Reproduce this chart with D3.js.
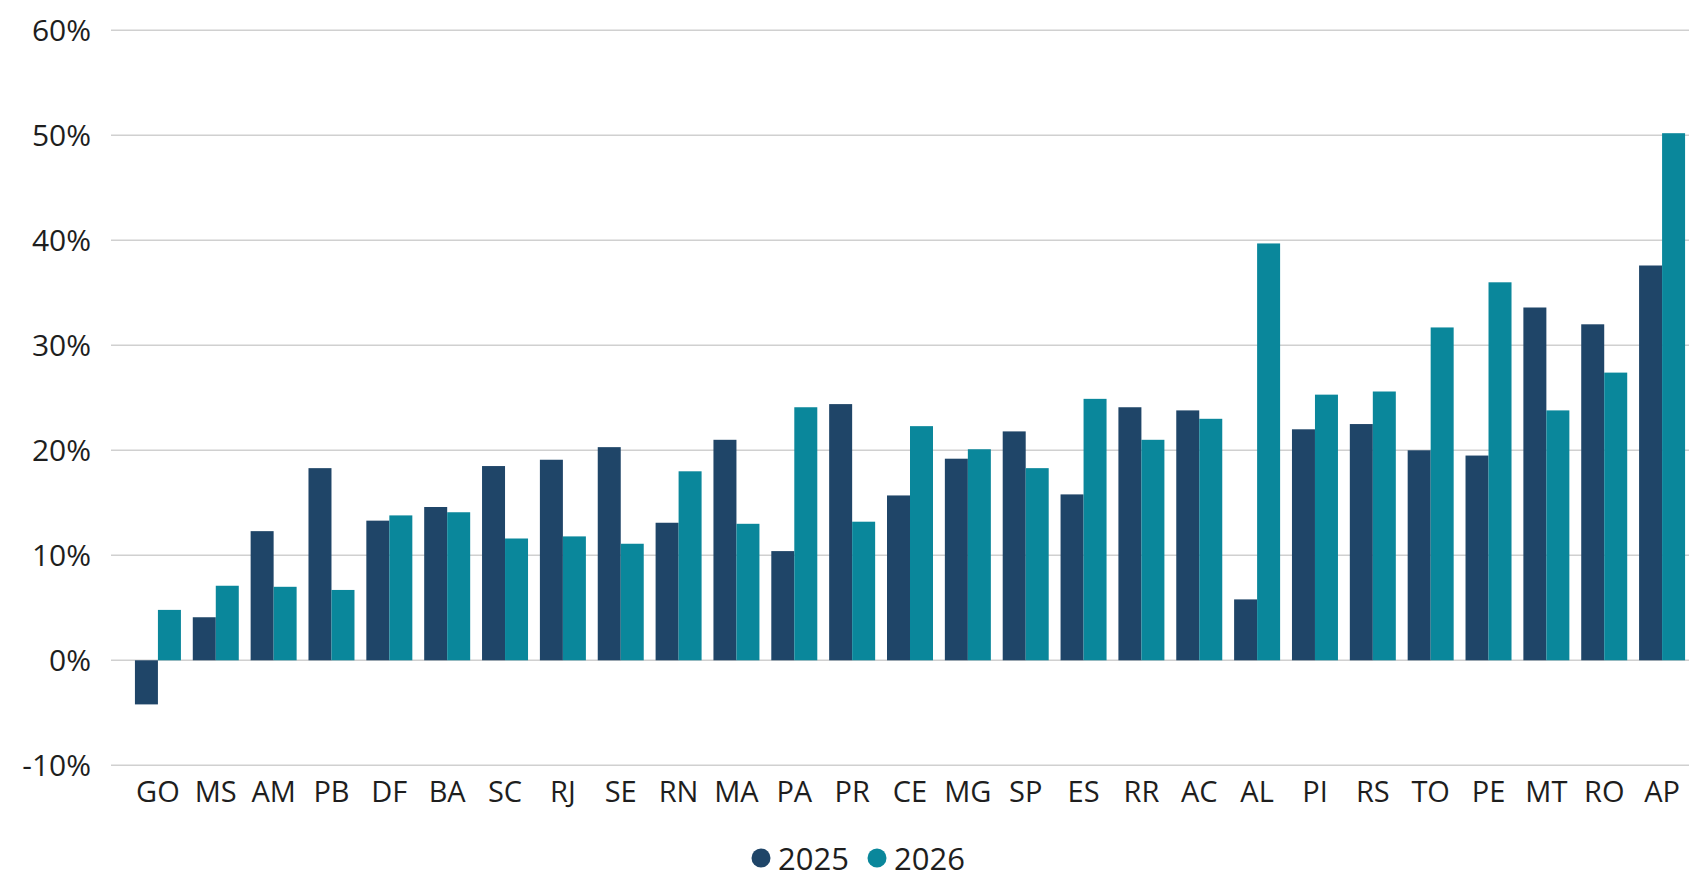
<!DOCTYPE html>
<html>
<head>
<meta charset="utf-8">
<script src="https://cdn.jsdelivr.net/npm/d3@7"></script>
<style>
  html, body { margin: 0; padding: 0; background: #fff; }
  svg { display: block; }
  text { font-family: "Open Sans", "Noto Sans", sans-serif; fill: #1e1e1e; }
</style>
</head>
<body>
<svg id="chart" width="1689" height="872"></svg>
<script>
const categories = ["GO","MS","AM","PB","DF","BA","SC","RJ","SE","RN","MA","PA","PR","CE","MG","SP","ES","RR","AC","AL","PI","RS","TO","PE","MT","RO","AP"];
const series2025 = [-4.2, 4.1, 12.3, 18.3, 13.3, 14.6, 18.5, 19.1, 20.3, 13.1, 21.0, 10.4, 24.4, 15.7, 19.2, 21.8, 15.8, 24.1, 23.8, 5.8, 22.0, 22.5, 20.0, 19.5, 33.6, 32.0, 37.6];
const series2026 = [4.8, 7.1, 7.0, 6.7, 13.8, 14.1, 11.6, 11.8, 11.1, 18.0, 13.0, 24.1, 13.2, 22.3, 20.1, 18.3, 24.9, 21.0, 23.0, 39.7, 25.3, 25.6, 31.7, 36.0, 23.8, 27.4, 50.2];
const seriesNames = ["2025", "2026"];
const yTicks = [-10, 0, 10, 20, 30, 40, 50, 60];
const colors = ["#1F4568", "#0A879B"];

const svg = d3.select("#chart");

const y = d3.scaleLinear().domain([-10, 60]).range([765.3, 30.3]);
const x0 = d3.scaleBand().domain(categories).range([129, 1691]).paddingInner(0.205).paddingOuter(0.1025);
const x1 = d3.scaleBand().domain(seriesNames).range([0, x0.bandwidth()]);

// gridlines
svg.append("g").selectAll("line").data(yTicks).join("line")
  .attr("x1", 111).attr("x2", 1689)
  .attr("y1", d => y(d)).attr("y2", d => y(d))
  .attr("stroke", "#d0d0d0").attr("stroke-width", 1.6);

// y labels
svg.append("g").selectAll("text").data(yTicks).join("text")
  .attr("x", 91).attr("y", d => y(d)).attr("dy", "0.36em")
  .attr("text-anchor", "end").attr("font-size", 30)
  .text(d => d + "%");

// bars
const data = categories.map((c, i) => ({ cat: c, vals: [series2025[i], series2026[i]] }));
const groups = svg.append("g").selectAll("g").data(data).join("g")
  .attr("transform", d => `translate(${x0(d.cat)},0)`);
groups.selectAll("rect").data(d => d.vals.map((v, j) => ({ v, s: seriesNames[j], j })))
  .join("rect")
  .attr("x", d => x1(d.s))
  .attr("width", x1.bandwidth())
  .attr("y", d => y(Math.max(0, d.v)))
  .attr("height", d => Math.abs(y(d.v) - y(0)))
  .attr("fill", d => colors[d.j]);

// category labels
svg.append("g").selectAll("text").data(categories).join("text")
  .attr("x", d => x0(d) + x0.bandwidth() / 2)
  .attr("y", 801.5)
  .attr("text-anchor", "middle").attr("font-size", 29)
  .text(d => d);

// legend
const legendX = [761, 877];
const lg = svg.append("g").selectAll("g").data(seriesNames).join("g");
lg.append("circle")
  .attr("cx", (d, i) => legendX[i]).attr("cy", 858).attr("r", 9.5)
  .attr("fill", (d, i) => colors[i]);
lg.append("text")
  .attr("x", (d, i) => legendX[i] + 17).attr("y", 870)
  .attr("font-size", 31)
  .text(d => d);
</script>
</body>
</html>
